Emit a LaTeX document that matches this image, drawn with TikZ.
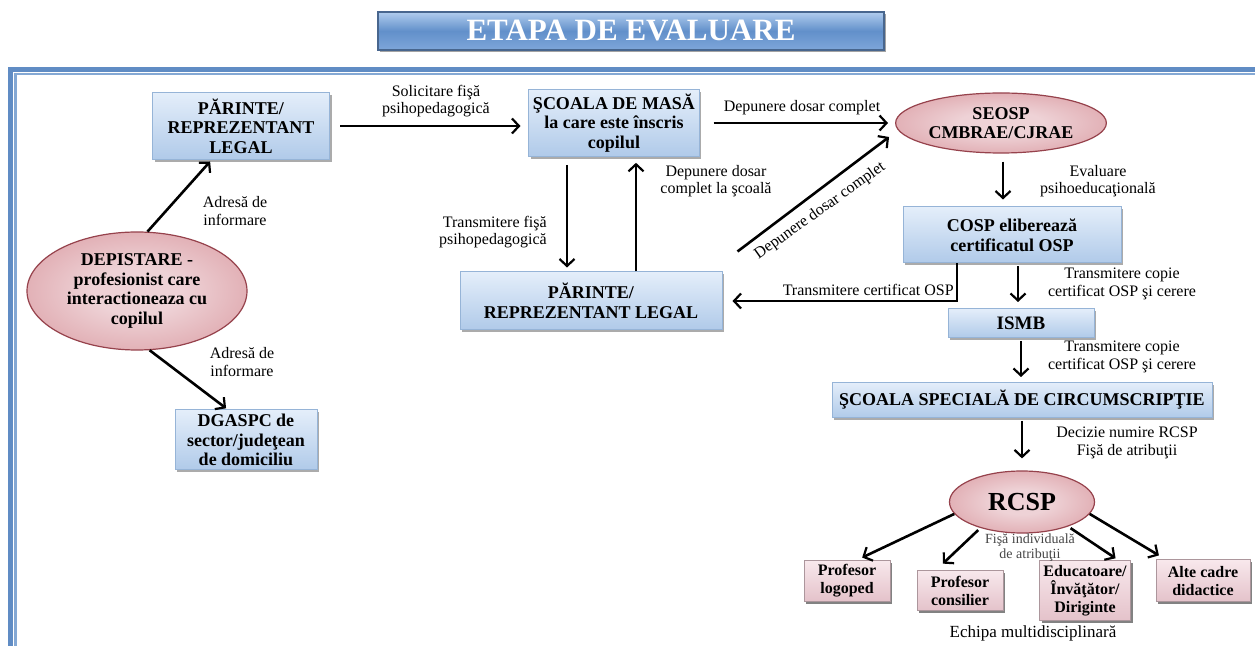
\documentclass[tikz,border=0pt]{standalone}
\usepackage{fontspec}
\setmainfont{Liberation Serif}
\usetikzlibrary{arrows.meta,shapes.geometric,shadows}

\definecolor{framethick}{RGB}{96,140,196}
\definecolor{framethin}{RGB}{132,168,212}
\definecolor{boxtop}{RGB}{228,238,250}
\definecolor{boxbot}{RGB}{176,202,233}
\definecolor{boxline}{RGB}{150,180,215}
\definecolor{ellin}{RGB}{238,210,214}
\definecolor{ellmid}{RGB}{222,166,172}
\definecolor{ellout}{RGB}{188,100,110}
\definecolor{elline}{RGB}{150,66,76}
\definecolor{pinktop}{RGB}{248,232,236}
\definecolor{pinkbot}{RGB}{228,194,202}
\definecolor{pinkline}{RGB}{172,150,156}
\definecolor{titletop}{RGB}{176,204,238}
\definecolor{titlemid}{RGB}{98,144,202}
\definecolor{titlebot}{RGB}{126,166,218}
\definecolor{titleline}{RGB}{72,102,142}
\definecolor{smallgray}{RGB}{70,70,70}

\pgfdeclareradialshading{redglow}{\pgfpoint{0bp}{0bp}}{color(0bp)=(ellin); color(10bp)=(ellin); color(30bp)=(ellmid); color(50bp)=(ellout); color(60bp)=(ellout)}

\tikzset{
  bluebox/.style={draw=boxline, line width=0.5pt, top color=boxtop, bottom color=boxbot,
    drop shadow={shadow xshift=1.2pt, shadow yshift=-1.2pt, fill=black!60, opacity=0.55},
    align=center, inner sep=2pt, font=\bfseries\fontsize{9}{9.8}\selectfont},
  redell/.style={ellipse, draw=elline, line width=0.6pt, shading=redglow,
    align=center, inner sep=1pt, font=\bfseries\fontsize{9}{9.8}\selectfont},
  pinkbox/.style={draw=pinkline, line width=0.5pt, top color=pinktop, bottom color=pinkbot,
    drop shadow={shadow xshift=1.2pt, shadow yshift=-1.2pt, fill=black!75, opacity=0.65},
    align=center, inner sep=2pt, font=\bfseries\fontsize{8}{9}\selectfont},
  arr/.style={-{Straight Barb[length=3.5pt,width=7.5pt,line width=1.1pt]}, line width=1.3pt},
  lbl/.style={align=center, inner sep=1pt, font=\fontsize{8}{8.8}\selectfont},
}

\begin{document}
\begin{tikzpicture}[x=0.5pt,y=-0.5pt]
\useasboundingbox (0,0) rectangle (1255,646);
\fill[white] (0,0) rectangle (1255,646);

%Shape: Frame
\draw[framethick, line width=2.5pt] (10.5,646) -- (10.5,69.5) -- (1255,69.5);
\draw[framethin, line width=1.2pt] (15.5,646) -- (15.5,74) -- (1255,74);

%Shape: Title
\node (title) at (631,31) [draw=titleline, line width=0.6pt, top color=titletop, bottom color=titlebot, middle color=titlemid,
  drop shadow={shadow xshift=1pt, shadow yshift=-1.2pt, fill=black!60, opacity=0.6},
  minimum width=253pt, minimum height=19pt, inner sep=0pt, text=white, font=\bfseries\fontsize{15.5}{15.5}\selectfont] {ETAPA DE EVALUARE};

%Shape: Rectangle
\node (par1) at (241,126) [bluebox, minimum width=88.5pt, minimum height=33.5pt] {PĂRINTE/\\REPREZENTANT\\LEGAL};
%Shape: Rectangle
\node (school) at (614,123) [bluebox, minimum width=84pt, minimum height=30pt] {ŞCOALA DE MASĂ\\la care este înscris\\copilul};
%Shape: Ellipse
\node (seosp) at (1001,123) [redell, minimum width=98.5pt, minimum height=30pt] {SEOSP\\CMBRAE/CJRAE};
%Shape: Rectangle
\node (cosp) at (1012,235) [bluebox, minimum width=109pt, minimum height=28pt] {COSP eliberează\\certificatul OSP};
%Shape: Rectangle
\node (ismb) at (1021,323) [bluebox, minimum width=73pt, minimum height=14.5pt, font=\bfseries\fontsize{9.5}{10}\selectfont] {ISMB};
%Shape: Rectangle
\node (scsp) at (1022,400) [bluebox, minimum width=190pt, minimum height=17.5pt] {ŞCOALA SPECIALĂ DE CIRCUMSCRIPŢIE};
%Shape: Ellipse
\node (rcsp) at (1022,502) [redell, minimum width=72.5pt, minimum height=31pt, font=\bfseries\fontsize{13}{13}\selectfont] {RCSP};
%Shape: Rectangle
\node (par2) at (591,301) [bluebox, minimum width=131pt, minimum height=29pt] {PĂRINTE/\\REPREZENTANT LEGAL};
%Shape: Ellipse
\node (depist) at (137,291) [redell, minimum width=110pt, minimum height=59pt] {DEPISTARE -\\profesionist care\\interactioneaza cu\\copilul};
%Shape: Rectangle
\node (dgaspc) at (246,440) [bluebox, minimum width=71pt, minimum height=30pt] {DGASPC de\\sector/judeţean\\de domiciliu};

%Shape: Team boxes
\node (prlog) at (847,581) [pinkbox, minimum width=43pt, minimum height=20pt] {Profesor\\logoped};
\node (prcons) at (960,591) [pinkbox, minimum width=43pt, minimum height=20pt] {Profesor\\consilier};
\node (educ) at (1085,591) [pinkbox, minimum width=43pt, minimum height=30pt] {Educatoare/\\Învăţător/\\Diriginte};
\node (alte) at (1203,581) [pinkbox, minimum width=47pt, minimum height=21pt] {Alte cadre\\didactice};

%Straight Lines
\draw[arr, shorten >=1pt] (depist.80.5) -- (par1.229);
\draw[arr, shorten >=1pt] (depist.-78) -- (dgaspc.121);
\draw[arr, shorten <=5pt, shorten >=4pt] (par1.east) -- (par1.east -| school.west);
\draw[arr, shorten <=7pt, shorten >=3.5pt] (school.east) -- (school.east -| seosp.west);
\draw[arr, shorten <=4pt, shorten >=2pt] ([xshift=-23.5pt]school.south) -- ([xshift=-23.5pt]school.south |- par2.north);
\draw[arr, shorten >=3pt] ([xshift=11pt]school.south |- par2.north) -- ([xshift=11pt]school.south);
\draw[arr] ([shift={(7.5pt,10pt)}]par2.north east) -- ([shift={(-3pt,-7pt)}]seosp.west);
\draw[arr, shorten <=4pt, shorten >=3.5pt] ([xshift=1pt]seosp.south) -- ([xshift=1pt]seosp.south |- cosp.north);
\draw[arr, shorten >=5pt] ([xshift=-27.5pt]cosp.south) |- (par2.east)
  node[pos=0.5, anchor=south east, lbl, yshift=1pt] (ltrcert) {Transmitere certificat OSP};
\draw[arr, shorten <=1.5pt, shorten >=3pt] ([xshift=3pt]cosp.south) -- ([xshift=3pt]cosp.south |- ismb.north);
\draw[arr, shorten <=1.5pt, shorten >=2.5pt] (ismb.south) -- (ismb.south |- scsp.north);
\draw[arr, shorten <=1.5pt, shorten >=6pt] (scsp.south) -- (scsp.south |- rcsp.north);
\draw[arr, shorten >=3pt] (rcsp.190) -- (prlog.65);
\draw[arr, shorten <=1.5pt, shorten >=5pt] (rcsp.212) -- (prcons.140);
\draw[arr, shorten <=1.5pt, shorten >=2pt] (rcsp.-28) -- (educ.42);
\draw[arr, shorten >=4pt] (rcsp.-10) -- (alte.150);

% Text Node
\node (ladr1) at (235,211) [lbl] {Adresă de\\informare};
% Text Node
\node (ladr2) at (242,362) [lbl] {Adresă de\\informare};
% Text Node
\node (lsolic) at (436,101) [lbl] {Solicitare fişă\\psihopedagogică};
% Text Node
\node (ldep) at (802,108) [lbl] {Depunere dosar complet};
% Text Node
\node (ldiag) at (820,211) [lbl, rotate=35.5] {Depunere dosar complet};
% Text Node
\node (ltrfisa) at (493,232) [lbl, align=right] {Transmitere fişă\\psihopedagogică};
% Text Node
\node (ldepsc) at (716,181) [lbl] {Depunere dosar\\complet la şcoală};
% Text Node
\node (leval) at (1098,181) [lbl] {Evaluare\\psihoeducaţională};
% Text Node
\node (ltrc1) at (1122,284) [lbl] {Transmitere copie\\certificat OSP şi cerere};
% Text Node
\node (ltrc2) at (1122,357) [lbl] {Transmitere copie\\certificat OSP şi cerere};
% Text Node
\node (ldec) at (1127,443) [lbl] {Decizie numire RCSP\\Fişă de atribuţii};
% Text Node
\node (lfisa) at (1030,548) [lbl, text=smallgray, font=\fontsize{7}{7.5}\selectfont] {Fişă individuală\\de atribuţii};
% Text Node
\node (lechipa) at (1033,633) [lbl, font=\fontsize{8.5}{9}\selectfont] {Echipa multidisciplinară};

\end{tikzpicture}
\end{document}
